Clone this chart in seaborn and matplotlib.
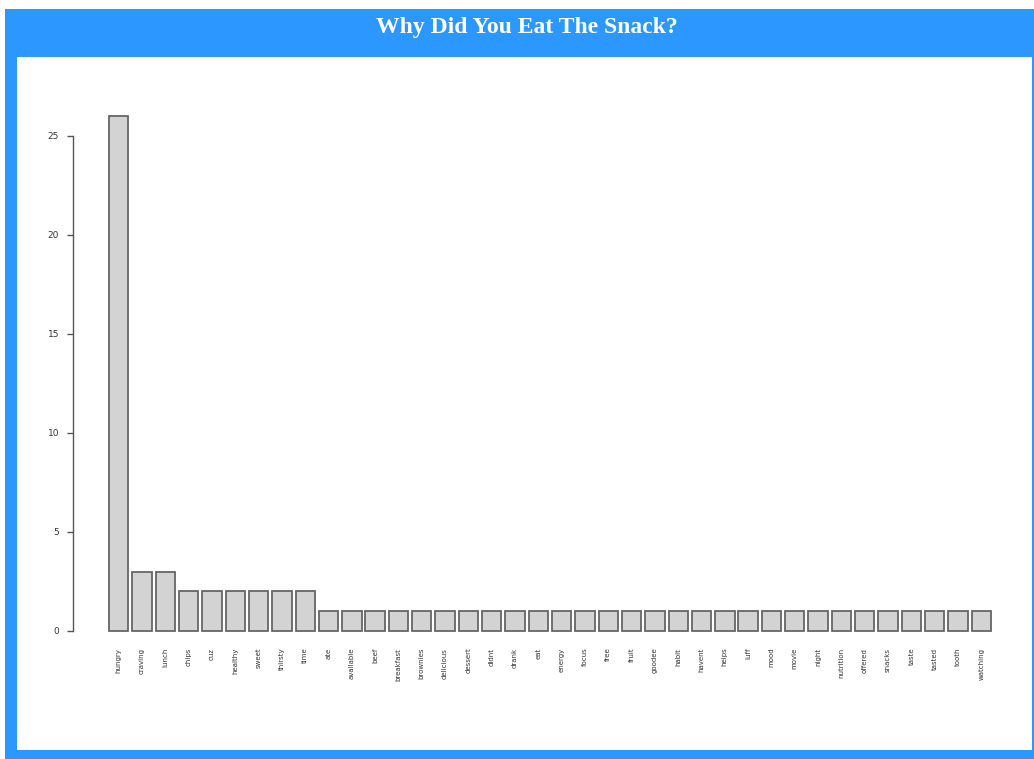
import matplotlib
matplotlib.use("Agg")
import matplotlib.pyplot as plt
import matplotlib.patches as mpatches
import seaborn as sns
import pandas as pd

# reasons and how often they came up
reasons = ["hungry", "craving", "lunch", "chips", "cuz", "healthy", "sweet",
           "thirsty", "time", "ate", "available", "beef", "breakfast",
           "brownies", "delicious", "dessert", "didnt", "drank", "eat",
           "energy", "focus", "free", "fruit", "goodee", "habit", "havent",
           "helps", "luff", "mood", "movie", "night", "nutrition", "offered",
           "snacks", "taste", "tasted", "tooth", "watching"]
counts = [26, 3, 3, 2, 2, 2, 2, 2, 2] + [1] * 29
yticks = [0, 5, 10, 15, 20, 25]

df = pd.DataFrame({"reason": reasons, "n": counts})

W, H = 1034, 759
fig = plt.figure(figsize=(W / 100, H / 100), dpi=100)
fig.patch.set_facecolor("white")

blue = "#2b97ff"
# blue frame + white panel, in pixel units converted to figure fraction
def px_rect(x0, y0, x1, y1, color, z):
    r = mpatches.Rectangle((x0 / W, 1 - y1 / H), (x1 - x0) / W, (y1 - y0) / H,
                           transform=fig.transFigure, facecolor=color,
                           edgecolor="none", zorder=z)
    fig.patches.append(r)

px_rect(5, 9, W, H, blue, -3)
px_rect(17, 57, 1032, 750, "white", -2)

fig.text(527 / W, 1 - 27 / H, "Why Did You Eat The Snack?", color="white",
         fontsize=17, fontweight="bold", family="Liberation Serif",
         ha="center", va="center")

# axes placed so bars span 109..991 px and y 0..26 spans 631..116 px
left, right, bottom, top = 109, 991, 631, 116
ax = fig.add_axes([left / W, 1 - bottom / H, (right - left) / W, (bottom - top) / H])
ax.patch.set_alpha(0)

sns.barplot(data=df, x="reason", y="n", ax=ax, color="#d3d3d3",
            width=1 / 1.2, edgecolor="#666666", linewidth=1.3, saturation=1)
for p in ax.patches:
    p.set_clip_on(False)  # outer bar edges sit right on the axes limits

ax.set_xlim(-0.5 / 1.2, len(reasons) - 1 + 0.5 / 1.2)
ax.set_ylim(0, 26)
ax.set_xlabel("")
ax.set_ylabel("")

for s in ["top", "right", "bottom"]:
    ax.spines[s].set_visible(False)
ax.spines["left"].set_position(("outward", (left - 73) * 0.72))
ax.spines["left"].set_bounds(0, 25)
ax.spines["left"].set_color("#555555")
ax.spines["left"].set_linewidth(1)
ax.set_yticks(yticks)
ax.tick_params(axis="y", length=4, width=1, color="#555555",
               labelsize=6.5, labelcolor="#333333", pad=6)
ax.tick_params(axis="x", length=0, labelsize=5, labelcolor="#333333",
               labelrotation=90, pad=12)

fig.savefig("out.png", dpi=100)
